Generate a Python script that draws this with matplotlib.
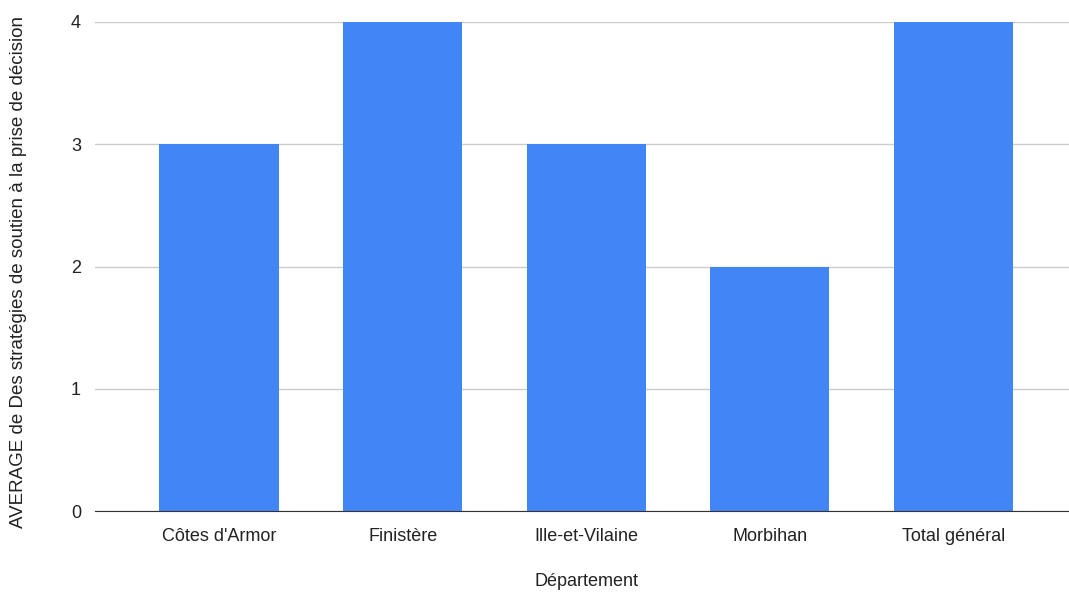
import matplotlib
matplotlib.use("Agg")
import matplotlib.pyplot as plt

departements = ["Côtes d'Armor", "Finistère", "Ille-et-Vilaine", "Morbihan", "Total général"]
moyennes = [3, 4, 3, 2, 4]

plt.rcParams["font.family"] = ["Liberation Sans", "DejaVu Sans"]

W, H = 1069, 595
fig = plt.figure(figsize=(W / 100, H / 100), dpi=100)
ax = fig.add_axes([95 / W, 84 / H, 974 / W, 489 / H])

x = range(len(departements))
ax.bar(x, moyennes, width=0.65, color="#4285F4", zorder=3)

ax.set_ylim(0, 4)
ax.set_xlim(-0.676, 4.63)
ax.set_yticks([0, 1, 2, 3, 4])
ax.set_xticks(list(x))
ax.set_xticklabels(departements)
ax.grid(axis="y", color="#cccccc", linewidth=1, zorder=0)
ax.tick_params(axis="both", length=0, labelsize=13, colors="#222222")
ax.tick_params(axis="x", pad=12)
ax.tick_params(axis="y", pad=10)

for side in ["top", "right", "left"]:
    ax.spines[side].set_visible(False)
ax.spines["bottom"].set_color("#333333")
ax.spines["bottom"].set_zorder(4)

# axis titles placed in figure pixels to match the reference
fig.text(586 / W, 1 - 582 / H, "Département", fontsize=13, color="#222222",
         ha="center", va="center")
fig.text(19 / W, 1 - 272 / H, "AVERAGE de Des stratégies de soutien à la prise de décision",
         fontsize=13.5, color="#222222", rotation=90, ha="center", va="center")

fig.savefig("out.png", dpi=100)
